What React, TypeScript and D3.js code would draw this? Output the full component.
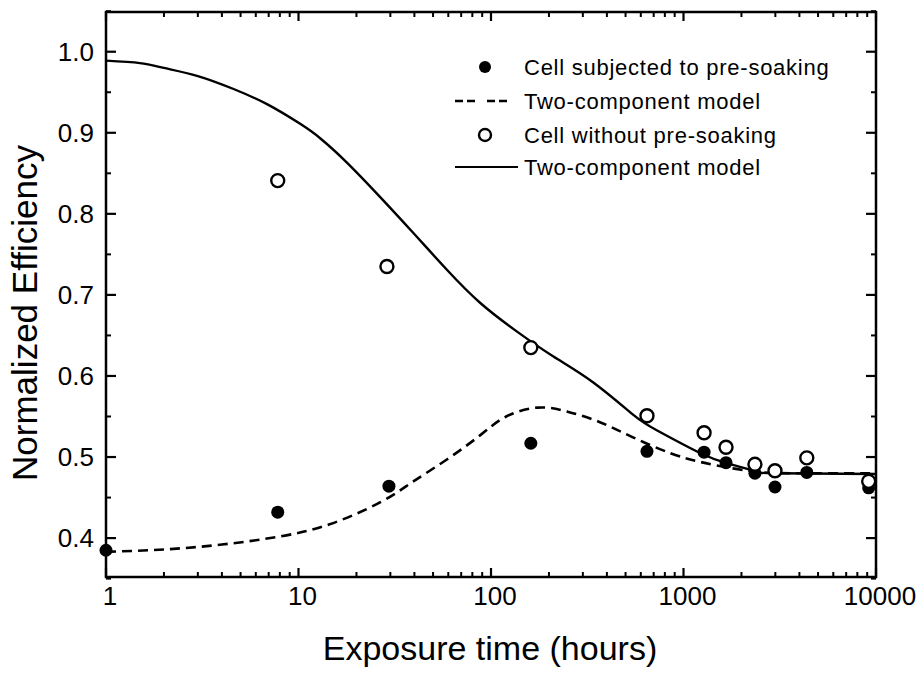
import React from "react";
import * as d3 from "d3";

// ---- data ----
const soakedTime = [1, 7.8, 29.5, 161, 646, 1279, 1663, 2350, 2987, 4370, 9160];
const soakedEff = [0.385, 0.432, 0.464, 0.517, 0.507, 0.506, 0.493, 0.48, 0.463, 0.481, 0.462];

const unsoakedTime = [7.8, 28.8, 161, 646, 1279, 1663, 2350, 2987, 4370, 9160];
const unsoakedEff = [0.841, 0.735, 0.635, 0.551, 0.53, 0.512, 0.491, 0.483, 0.499, 0.47];

const modelSoakedTime = [1, 2, 4, 8, 14.5, 26.5, 39, 59, 88, 120, 175, 250, 368, 550, 850, 1220, 1800, 2600, 4000, 10000];
const modelSoakedEff = [0.383, 0.386, 0.392, 0.402, 0.417, 0.444, 0.469, 0.497, 0.527, 0.550, 0.561, 0.556, 0.543, 0.524, 0.505, 0.494, 0.486, 0.481, 0.48, 0.48];

const modelUnsoakedTime = [1, 1.5, 2, 3, 4.6, 6.9, 10.2, 13, 17.9, 26.5, 39.3, 59, 88, 136, 211, 340, 549, 726, 1218, 1700, 2300, 3000, 10000];
const modelUnsoakedEff = [0.989, 0.986, 0.98, 0.97, 0.954, 0.935, 0.911, 0.893, 0.863, 0.821, 0.777, 0.731, 0.69, 0.655, 0.624, 0.592, 0.552, 0.533, 0.505, 0.492, 0.483, 0.48, 0.479];

const xTickValues = [1, 10, 100, 1000, 10000];
const xTickLabels = ["1", "10", "100", "1000", "10000"];
const yTickValues = [0.4, 0.5, 0.6, 0.7, 0.8, 0.9, 1.0];
const yTickLabels = ["0.4", "0.5", "0.6", "0.7", "0.8", "0.9", "1.0"];
const yMinorValues = [0.35, 0.45, 0.55, 0.65, 0.75, 0.85, 0.95, 1.05];

const legendLabels = [
  "Cell subjected to pre-soaking",
  "Two-component model",
  "Cell without pre-soaking",
  "Two-component model",
];

const xTitle = "Exposure time (hours)";
const yTitle = "Normalized Efficiency";

export default function App() {
  const W = 924, H = 673;
  const left = 106, right = 876, top = 12, bottom = 577;
  const x = d3.scaleLog().domain([1, 10000]).range([left, right]);
  const y = d3.scaleLinear().domain([0.352, 1.049]).range([bottom, top]);
  const font = "'Liberation Sans', Arial, Helvetica, sans-serif";

  const line = d3
    .line<[number, number]>()
    .x((d) => x(d[0]))
    .y((d) => y(d[1]))
    .curve(d3.curveNatural);

  const soakedModel = line(modelSoakedTime.map((t, i) => [t, modelSoakedEff[i]]) as [number, number][]) || "";
  const unsoakedModel = line(modelUnsoakedTime.map((t, i) => [t, modelUnsoakedEff[i]]) as [number, number][]) || "";

  const minorX: number[] = [];
  for (let dec = 1; dec < 10000; dec *= 10) {
    for (let k = 2; k <= 9; k++) minorX.push(dec * k);
  }

  const stroke = "#000";
  const axisW = 2.5;

  return (
    <svg
      width={W}
      height={H}
      viewBox={`0 0 ${W} ${H}`}
      style={{ position: "absolute", left: 0, top: 0, display: "block", background: "#fff" }}
    >
      <rect x={0} y={0} width={W} height={H} fill="#fff" />
      <defs>
        <clipPath id="plotclip">
          <rect x={left} y={top} width={right - left} height={bottom - top} />
        </clipPath>
      </defs>

      {/* model curves */}
      <path d={unsoakedModel} fill="none" stroke={stroke} strokeWidth={2.4} clipPath="url(#plotclip)" />
      <path d={soakedModel} fill="none" stroke={stroke} strokeWidth={2.6} strokeDasharray="10,6" clipPath="url(#plotclip)" />

      {/* data points */}
      {soakedTime.map((t, i) => (
        <circle key={"s" + i} cx={x(t)} cy={y(soakedEff[i])} r={6.5} fill="#000" />
      ))}
      {unsoakedTime.map((t, i) => (
        <circle key={"u" + i} cx={x(t)} cy={y(unsoakedEff[i])} r={6.5} fill="#fff" stroke="#000" strokeWidth={2.4} />
      ))}

      {/* frame */}
      <rect x={left} y={top} width={right - left} height={bottom - top} fill="none" stroke={stroke} strokeWidth={axisW} />

      {/* x ticks (bottom and top, inward) */}
      {xTickValues.map((v) => (
        <g key={"xt" + v}>
          <line x1={x(v)} x2={x(v)} y1={bottom} y2={bottom - 9} stroke={stroke} strokeWidth={2.2} />
          <line x1={x(v)} x2={x(v)} y1={top} y2={top + 9} stroke={stroke} strokeWidth={2.2} />
        </g>
      ))}
      {minorX.map((v) => (
        <g key={"xm" + v}>
          <line x1={x(v)} x2={x(v)} y1={bottom} y2={bottom - 5} stroke={stroke} strokeWidth={2} />
          <line x1={x(v)} x2={x(v)} y1={top} y2={top + 5} stroke={stroke} strokeWidth={2} />
        </g>
      ))}
      {xTickValues.map((v, i) => (
        <text
          key={"xl" + v}
          x={x(v) + 4}
          y={605}
          textAnchor="middle"
          fontFamily={font}
          fontSize={26}
          fill="#000"
        >
          {xTickLabels[i]}
        </text>
      ))}

      {/* y ticks (left and right, inward) */}
      {yTickValues.map((v) => (
        <g key={"yt" + v}>
          <line x1={left} x2={left + 10} y1={y(v)} y2={y(v)} stroke={stroke} strokeWidth={2.2} />
          <line x1={right} x2={right - 10} y1={y(v)} y2={y(v)} stroke={stroke} strokeWidth={2.2} />
        </g>
      ))}
      {yMinorValues.map((v) => (
        <g key={"ym" + v}>
          <line x1={left} x2={left + 5} y1={y(v)} y2={y(v)} stroke={stroke} strokeWidth={2} />
          <line x1={right} x2={right - 5} y1={y(v)} y2={y(v)} stroke={stroke} strokeWidth={2} />
        </g>
      ))}
      {yTickValues.map((v, i) => (
        <text
          key={"yl" + v}
          x={94}
          y={y(v)}
          dy="0.36em"
          textAnchor="end"
          fontFamily={font}
          fontSize={26}
          fill="#000"
        >
          {yTickLabels[i]}
        </text>
      ))}

      {/* axis titles */}
      <text x={490} y={660} textAnchor="middle" fontFamily={font} fontSize={34} fill="#000">
        {xTitle}
      </text>
      <text
        transform="translate(37,313) rotate(-90)"
        textAnchor="middle"
        fontFamily={font}
        fontSize={35}
        fill="#000"
      >
        {yTitle}
      </text>

      {/* legend */}
      <g fontFamily={font} fontSize={22} fill="#000" letterSpacing={0.75}>
        <circle cx={485} cy={67} r={6} fill="#000" />
        <line x1={455} x2={507} y1={101} y2={101} stroke="#000" strokeWidth={2.4} strokeDasharray="8,4,8,12" />
        <circle cx={485} cy={135} r={6} fill="#fff" stroke="#000" strokeWidth={2.4} />
        <line x1={455} x2={518} y1={167} y2={167} stroke="#000" strokeWidth={2.2} />
        {legendLabels.map((lab, i) => (
          <text key={"lg" + i} x={524} y={[67, 101, 135, 167][i]} dy="0.36em">
            {lab}
          </text>
        ))}
      </g>
    </svg>
  );
}
